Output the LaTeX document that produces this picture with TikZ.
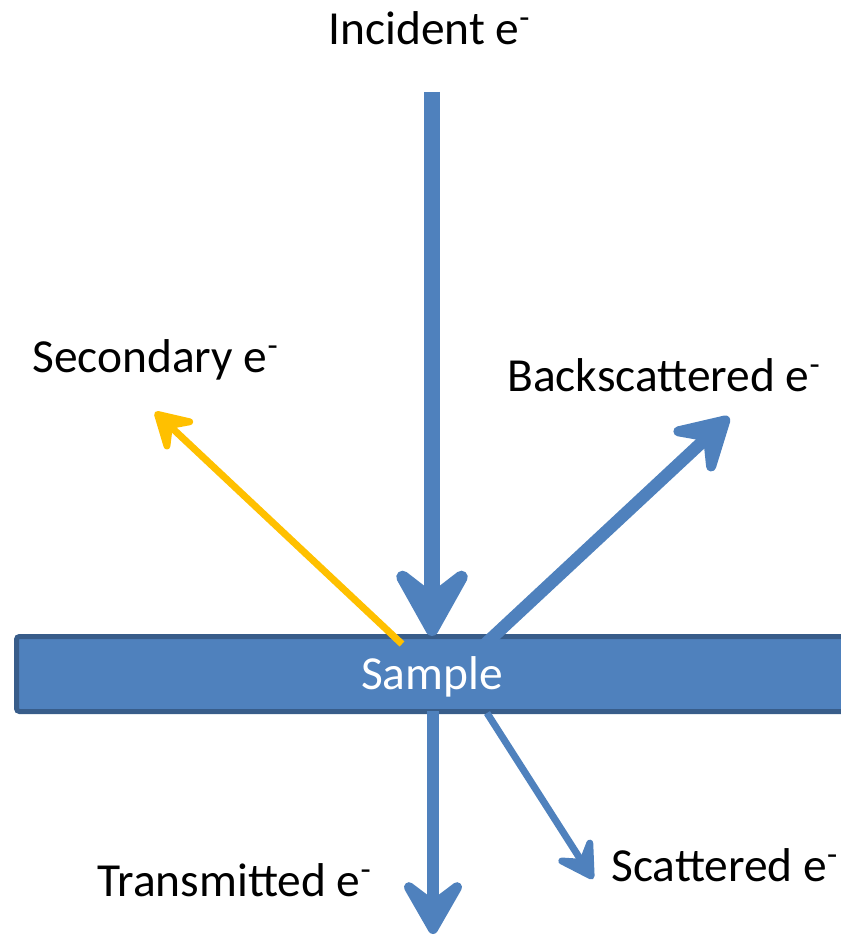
\documentclass[tikz,border=0pt]{standalone}
\usepackage{fontspec}
\setmainfont{Carlito}
\usetikzlibrary{arrows.meta}
\definecolor{beam}{HTML}{4F81BD}
\definecolor{beamedge}{HTML}{385D8A}
\definecolor{secondary}{HTML}{FFC000}
\tikzset{
  label text/.style={font=\fontsize{27}{32}\selectfont, text=black, inner sep=0pt},
  main beam/.style={draw=beam, line width=0.31cm,
    -{Stealth[round, length=1.78cm, width=1.98cm, inset=0.76cm]}},
  thick beam/.style={draw=beam, line width=0.25cm,
    -{Stealth[round, length=1.4cm, width=1.6cm, inset=0.6cm]}},
  thin beam/.style={line width=0.14cm,
    -{Stealth[round, length=0.95cm, width=1.1cm, inset=0.4cm]}},
}
\begin{document}
\begin{tikzpicture}[x=0.02cm, y=-0.02cm]
\useasboundingbox (0,0) rectangle (840,935);

% sample slab, running off the right edge (no right border)
\fill[beam] (16.5,636.5) rectangle (870,711.5);
\draw[beamedge, line width=0.1cm, rounded corners=0.06cm]
  (870,636.5) -- (16.5,636.5) -- (16.5,711.5) -- (870,711.5);
\node[font=\fontsize{27}{32}\selectfont, text=white, inner sep=0pt] (sample) at (432,677) {Sample};

% beam end points
\coordinate (inc0) at (432,92);
\coordinate (inc1) at (432,636);
\coordinate (bs0)  at (481,648);
\coordinate (bs1)  at (729,417);
\coordinate (se0)  at (402,644);
\coordinate (se1)  at (155,412);
\coordinate (tr0)  at (433,711);
\coordinate (tr1)  at (433,934);
\coordinate (sc0)  at (487,713);
\coordinate (sc1)  at (593,879);

% beams
\draw[main beam] (inc0) -- (inc1);
\draw[thick beam] (bs0) -- (bs1);
\draw[thick beam] (tr0) -- (tr1);
\draw[thin beam, draw=secondary] (se0) -- (se1);
\draw[thin beam, draw=beam] (sc0) -- (sc1);

% labels
\node[label text, anchor=west] (incident) at (328,28) {Incident e\textsuperscript{-}};
\node[label text, anchor=west] (second) at (32,360) {Secondary e\textsuperscript{-}};
\node[label text, anchor=west] (back) at (507,375) {Backscattered e\textsuperscript{-}};
\node[label text, anchor=west] (trans) at (97,880) {Transmitted e\textsuperscript{-}};
\node[label text, anchor=west] (scat) at (611,865) {Scattered e\textsuperscript{-}};
\end{tikzpicture}
\end{document}
